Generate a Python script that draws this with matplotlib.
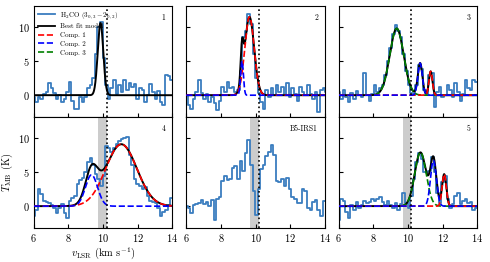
import numpy as np
import matplotlib
matplotlib.use('Agg')
import matplotlib.pyplot as plt
from matplotlib.lines import Line2D

plt.rcParams['font.family'] = 'serif'
plt.rcParams['font.serif'] = ['cmr10', 'DejaVu Serif']
plt.rcParams['mathtext.fontset'] = 'cm'
plt.rcParams['axes.unicode_minus'] = False
plt.rcParams['axes.formatter.use_mathtext'] = True

# velocity channels (km/s)
vel = np.round(np.arange(6.0, 14.11, 0.15), 2)

spec_1 = [-0.3, -1.0, -0.2, -0.5, 0.2, 0.5, 1.8, 1.0, 0.3, -0.5, 0.0, -1.0, -0.5, 0.5,
          2.0, -0.8, -2.0, -2.0, -0.3, -1.0, -0.3, 1.0, 1.5, 2.5, 6.0, 10.0, 10.8, 5.5,
          1.5, -0.5, 1.0, 2.2, 0.2, 1.5, 0.5, 2.3, 0.8, 1.8, 1.2, 1.6, -0.5, 1.0, 0.8,
          -1.0, 0.0, 1.6, 0.5, -0.5, 0.6, -1.0, -1.5, 3.0, 2.8, 2.3, 2.3]
spec_2 = [0.0, -1.5, -2.0, -0.5, 0.5, 2.2, 0.3, -0.5, 0.2, -1.0, -0.3, -1.2, -2.2, -0.8,
          1.2, 0.5, 2.0, 1.0, 1.2, 0.5, 0.8, 3.5, 8.5, 9.5, 12.0, 10.5, 6.0, 2.5,
          0.3, -1.0, -2.0, 0.8, -0.3, 1.0, 0.0, 1.5, 0.5, 1.2, 0.0, 1.8, -0.2, 1.0, 0.2,
          -0.8, 1.2, 0.5, 0.0, 1.5, 0.2, -0.5, 0.5, -2.5, 0.8, 1.0, 0.5]
spec_3 = [0.5, -0.5, 0.8, -0.3, -1.0, 0.3, -0.5, 0.6, 0.0, -0.3, 3.2, 0.0, -0.8, 0.2,
          1.5, 0.5, 1.0, 1.5, 3.0, 5.0, 7.0, 9.0, 10.3, 9.5, 8.5, 6.0, 3.5, 1.5,
          0.3, 0.0, 1.5, 4.5, 3.8, 0.8, 0.2, 3.0, 3.2, -1.8, 0.5, 1.2, -0.3, 0.0, 1.5,
          0.8, -0.2, 1.8, 0.5, -0.8, 0.2, 2.3, 1.0, 0.8, 2.3, 2.0, 2.0]
spec_4 = [-1.5, -0.5, 2.5, 1.8, 0.8, 0.6, 0.5, 0.2, -0.3, -1.0, -0.2, 0.3, -1.0, -1.8,
          0.8, 1.2, 1.5, 3.3, 3.8, 4.2, 5.0, 6.5, 7.1, 6.0, 4.7, 4.0, 3.0, 4.5,
          8.8, 8.5, 8.0, 8.6, 9.2, 9.5, 9.8, 10.0, 10.2, 7.5, 6.0, 4.0, 3.2, 3.0, 2.5,
          2.8, 1.5, 0.8, 0.6, 0.5, -0.2, -1.5, -0.8, -0.5, 0.2, 1.2, 1.2]
spec_irs1 = [0.0, -0.3, -1.0, 0.2, 0.3, 0.5, 0.9, 0.3, 0.6, 0.0, 0.9, -2.0, 1.1, 1.3,
             3.7, 4.4, 3.8, 4.0, 5.6, 5.9, 4.0, 6.6, 5.2, 7.8, 9.7, 6.0, 2.3, -1.3,
             2.5, 5.4, 6.0, 7.3, 8.0, 9.0, 7.5, 3.7, 3.5, 4.0, 3.0, 4.2, 2.5, 1.3, 1.0,
             0.5, 0.5, 2.5, 2.3, -0.2, -0.5, 0.6, 0.9, -0.5, -1.5, 0.7, 0.8]
spec_5 = [-2.0, 1.0, 0.7, -0.8, -1.8, 0.2, -0.5, 0.6, -0.2, 0.2, 0.8, 0.4, 0.6, 1.1,
          0.8, 1.0, 1.3, 0.6, 0.2, 0.8, 0.2, -0.3, 0.4, -0.5, 0.3, 2.0, 0.4, -0.3,
          1.5, 4.0, 6.5, 7.8, 7.0, 5.0, 5.0, 5.2, 7.2, 5.0, 2.0, 0.5, 3.5, 4.5, 1.0,
          -0.3, 0.3, 1.5, 2.0, 0.3, 0.8, 1.0, 0.4, 0.6, -0.5, -0.3, 0.0]

# gaussian fit components: (amplitude K, centre km/s, sigma km/s)
fit_1 = {'best': [(10.6, 9.85, 0.16)]}
fit_2 = {'Comp. 1': (11.5, 9.65, 0.27), 'Comp. 2': (5.0, 9.22, 0.08)}
fit_3 = {'Comp. 1': (3.5, 11.31, 0.10), 'Comp. 2': (4.7, 10.70, 0.13),
         'Comp. 3': (9.8, 9.35, 0.40)}
fit_4 = {'Comp. 1': (9.1, 11.05, 0.90), 'Comp. 2': (4.6, 9.33, 0.35)}
fit_5 = {'Comp. 1': (4.7, 12.09, 0.12), 'Comp. 2': (6.7, 11.47, 0.17),
         'Comp. 3': (7.9, 10.72, 0.33)}

panels = [('1', spec_1, fit_1), ('2', spec_2, fit_2), ('3', spec_3, fit_3),
          ('4', spec_4, fit_4), ('B5-IRS1', spec_irs1, None), ('5', spec_5, fit_5)]

comp_colors = {'Comp. 1': 'r', 'Comp. 2': 'b', 'Comp. 3': 'g'}
spec_color = '#3a7dbf'
v_sys = 10.2


def gauss(v, a, v0, s):
    return a * np.exp(-0.5 * ((v - v0) / s) ** 2)


fig, axes = plt.subplots(2, 3, figsize=(4.9, 2.62), dpi=100, sharex=True, sharey=True)
fig.subplots_adjust(left=0.069, right=0.974, top=0.977, bottom=0.13, wspace=0.1, hspace=0)

vfine = np.linspace(6, 14, 800)
for k, (ax, (label, spec, fit)) in enumerate(zip(axes.flat, panels)):
    if k >= 3:
        ax.axvspan(9.7, 10.2, color='0.8', lw=0, zorder=0)
    ax.step(vel, spec, where='mid', color=spec_color, lw=1.3, zorder=2)
    if fit is not None:
        if 'best' in fit:
            total = sum(gauss(vfine, *p) for p in fit['best'])
            ax.plot(vfine, total, color='k', lw=1.4, zorder=3)
        else:
            total = sum(gauss(vfine, *p) for p in fit.values())
            ax.plot(vfine, total, color='k', lw=1.4, zorder=3)
            for name in ['Comp. 3', 'Comp. 1', 'Comp. 2']:
                if name in fit:
                    ax.plot(vfine, gauss(vfine, *fit[name]), '--',
                            color=comp_colors[name], lw=1.2, zorder=4)
    ax.axvline(v_sys, color='k', ls=':', lw=1.2, zorder=5)
    ax.text(0.95, 0.93, label, transform=ax.transAxes, ha='right', va='top', fontsize=5.5)
    ax.tick_params(direction='in', labelsize=7.5, length=3, pad=3)

ax = axes[0, 0]
ax.set_xlim(6, 14)
ax.set_ylim(-3.2, 13.1)
ax.set_xticks([6, 8, 10, 12, 14])
ax.set_yticks([0, 5, 10])

handles = [Line2D([], [], color=spec_color, lw=1.3),
           Line2D([], [], color='k', lw=1.3),
           Line2D([], [], color='r', ls='--', lw=1.2),
           Line2D([], [], color='b', ls='--', lw=1.2),
           Line2D([], [], color='g', ls='--', lw=1.2)]
labels = [r'H$_2$CO ($3_{0,3}-2_{0,2}$)', 'Best fit model', 'Comp. 1', 'Comp. 2', 'Comp. 3']
ax.legend(handles, labels, loc='upper left', frameon=False, fontsize=5,
          handlelength=2.4, borderaxespad=0.2, labelspacing=0.4)

axes[1, 0].set_ylabel(r'$T_{\rm MB}$ (K)', fontsize=7.5, labelpad=2)
axes[1, 0].set_xlabel(r'$v_{\rm LSR}$ (km s$^{-1}$)', fontsize=7.5, labelpad=1)

fig.savefig('out.png', dpi=100)
